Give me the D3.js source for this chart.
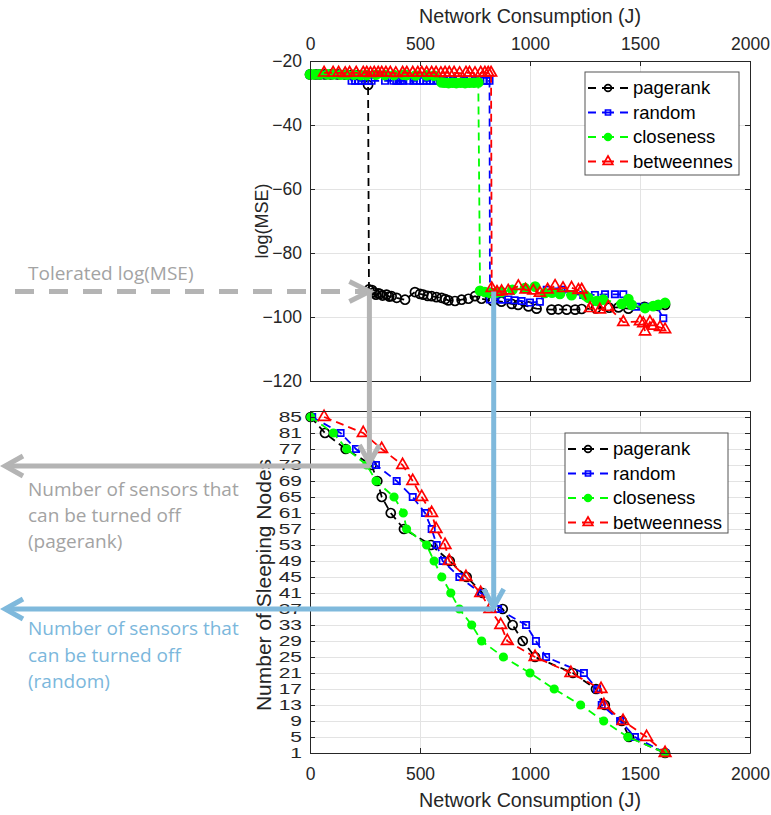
<!DOCTYPE html>
<html>
<head>
<meta charset="utf-8">
<script src="https://cdnjs.cloudflare.com/ajax/libs/d3/7.8.5/d3.min.js"></script>
<style>
body { margin: 0; background: #fff; }
svg { display: block; }
</style>
</head>
<body>
<div id="chart"></div>
<script>
// ---- data ----
var xTicks = [0, 500, 1000, 1500, 2000];
var mseTicks = [-20, -40, -60, -80, -100, -120];
var nodeTicks = [1, 5, 9, 13, 17, 21, 25, 29, 33, 37, 41, 45, 49, 53, 57, 61, 65, 69, 73, 77, 81, 85];

var topNames = ["pagerank", "random", "closeness", "betweennes"];
var bottomNames = ["pagerank", "random", "closeness", "betweenness"];

// top chart: [network consumption, log(MSE)]
var pagerankMse = [[0, -24.2], [25, -24.2], [45, -24.2], [68, -24.2], [95, -24.2], [125, -24.2], [162, -24.3], [190, -24.3], [215, -24.4], [240, -24.8], [264, -27.5],
    [268, -91.4], [282, -91.6], [290, -92.3], [300, -93], [310, -92.6], [318, -92.8], [330, -93.3], [348, -93], [360, -93.6], [371, -93.5], [394, -94], [432, -94.6],
    [477, -92.2], [500, -92.8], [515, -93], [535, -93.4], [553, -93.5], [575, -93.8], [598, -94], [615, -94.4], [629, -94.8], [659, -95], [689, -94.6], [720, -94.3], [750, -93.5], [780, -94.3],
    [830, -95], [870, -95.2], [917, -95.9], [946, -96.2], [993, -96.7], [1030, -97.4], [1098, -97.7], [1129, -97.6], [1167, -97.7], [1205, -97.7], [1235, -97.5], [1300, -97.3], [1360, -97.1], [1402, -97], [1447, -97.4], [1520, -96.8], [1580, -96.5], [1614, -96.2]];
var randomMse = [[0, -24.2], [30, -24.2], [60, -24.2], [90, -24.2], [120, -24.3], [150, -24.3], [178, -24.4], [189, -26.2], [205, -26.2], [220, -26.2], [235, -26.2], [250, -26.2], [265, -26.2], [280, -26.2], [341, -26.2], [379, -26.2], [392, -26.2], [402, -26.2], [413, -26.2], [424, -26.2], [450, -26.2], [470, -26.2], [485, -26.2], [500, -26.2], [515, -26.2], [530, -26.2], [545, -26.2], [561, -26.2], [580, -26.2], [610, -26.2], [650, -26.2], [700, -26.2], [750, -26.2], [790, -26.2], [803, -26.2], [816, -26.2],
    [818, -94.5], [841, -94.3], [871, -94.6], [901, -94.5], [930, -94.8], [962, -95], [1000, -95.5], [1045, -95.2], [1076, -91.5], [1110, -92], [1144, -91.5], [1190, -92.8], [1242, -93.1], [1295, -93.1], [1341, -92.9], [1386, -92.9], [1424, -92.9], [1482, -96.8], [1523, -96.8], [1575, -96.6], [1606, -100.4]];
var closenessMse = [[0, -24.2], [20, -24.2], [45, -24.2], [80, -24.2], [106, -24.2], [140, -24.3], [167, -24.3], [200, -24.3], [230, -24.4], [258, -24.4], [300, -24.3], [340, -24.4], [382, -24.4], [424, -24.3], [439, -24.4], [480, -24.5], [530, -24.5], [564, -24.6], [598, -26.7], [612, -26.8], [630, -26.9], [648, -26.8], [665, -26.9], [685, -26.8], [705, -26.9], [725, -26.8], [745, -26.8], [765, -26.7],
    [773, -91.8], [795, -92.2], [818, -92.5], [845, -92.4], [871, -92.2], [920, -91.5], [977, -91], [1023, -90.5], [1068, -92.5], [1100, -92.4], [1136, -92.8], [1189, -93.2], [1250, -93.2], [1265, -94], [1303, -95], [1333, -94.6], [1417, -95.9], [1447, -94.4], [1462, -96.2], [1523, -97.2], [1560, -96.6], [1583, -96.2], [1614, -95.6]];
var betweennessMse = [[64, -23.7], [105, -23.7], [130, -23.7], [160, -23.8], [180, -23.7], [210, -23.7], [242, -23.7], [258, -23.7], [275, -23.8], [292, -23.7], [310, -23.7], [326, -23.7], [345, -23.7], [365, -23.7], [390, -23.8], [421, -23.7], [440, -23.7], [467, -23.7], [490, -23.7], [508, -23.7], [530, -23.7], [553, -23.7], [573, -23.7], [595, -23.8], [614, -23.7], [633, -23.7], [655, -23.7], [680, -23.8], [709, -23.7], [725, -23.7], [750, -23.8], [776, -23.7], [795, -23.7], [810, -23.7], [823, -23.7],
    [826, -91], [850, -92.2], [871, -92], [901, -91.8], [947, -90.4], [980, -91.5], [1015, -91.8], [1045, -92.5], [1080, -91.5], [1114, -90.3], [1150, -91], [1189, -90.9], [1220, -91.6], [1235, -91.5], [1273, -97.3], [1318, -97.7], [1356, -96.9], [1424, -101.6], [1500, -101.4], [1515, -102], [1523, -104.6], [1545, -101.6], [1561, -102.8], [1591, -103.2], [1614, -103.9]];

// bottom chart: sleeping nodes vs network consumption
var sleepNodes = [85, 81, 77, 73, 69, 65, 61, 57, 53, 49, 45, 41, 37, 33, 29, 25, 21, 17, 13, 9, 5, 1];
var pagerankCons = [3, 68, 162, 280, 306, 326, 367, 427, 550, 635, 712, 785, 876, 921, 967, 1023, 1195, 1300, 1340, 1417, 1450, 1614];
var randomCons = [10, 139, 209, 300, 394, 467, 523, 553, 576, 603, 679, 776, 855, 982, 1027, 1073, 1245, 1305, 1326, 1410, 1477, 1614];
var closenessCons = [3, 106, 167, 258, 300, 382, 424, 439, 530, 564, 599, 640, 679, 735, 780, 879, 1000, 1110, 1230, 1335, 1445, 1614];
var betweennessCons = [64, 242, 326, 421, 467, 508, 553, 573, 614, 633, 709, 776, 818, 867, 897, 1023, 1186, 1323, 1336, 1423, 1530, 1614];

// annotation reading points
var toleratedMse = -92;
var pagerankCut = { cons: 270, nodes: 73 };
var randomCut = { cons: 835, nodes: 37 };

// ---- layout ----
var svgWidth = 771;
var svgHeight = 815;
var left = 310;
var width = 440;
var topPlot = { top: 61, height: 320 };
var botPlot = { top: 411, height: 342 };

var colors = ["#000000", "#0000ff", "#00ff00", "#ff0000"];
var markers = ["circle", "square", "dot", "triangle"];
var axisColor = "#262626";
var gridColor = "#e3e3e3";
var font = "'Liberation Sans', Arial, sans-serif";
var fmt = d3.format("d");

var svg = d3.select("#chart")
    .append("svg")
    .attr("width", svgWidth)
    .attr("height", svgHeight);

var x1 = d3.scaleLinear().domain([0, 2000]).range([0, width]);
var y1 = d3.scaleLinear().domain([-120, -20]).range([topPlot.height, 0]);
var x2 = d3.scaleLinear().domain([0, 2000]).range([0, width]);
var y2 = d3.scaleLinear().domain([1, 86.5]).range([botPlot.height, 0]);

function styleAxis(g, size) {
    g.attr("font-family", font).attr("font-size", size);
    g.selectAll("line").attr("stroke", axisColor);
    g.selectAll("path").attr("stroke", axisColor);
    g.selectAll("text").attr("fill", axisColor);
}

function grid(g, axis) {
    g.call(axis.tickFormat("").tickSizeOuter(0));
    g.select(".domain").remove();
    g.selectAll("line").attr("stroke", gridColor);
}

function drawMarkers(g, pts, x, y, type, color, big) {
    var sym;
    if (type === "circle") sym = d3.symbol(d3.symbolCircle, 64);
    else if (type === "square") sym = d3.symbol(d3.symbolSquare, 40);
    else if (type === "dot") sym = d3.symbol(d3.symbolCircle, big ? 64 : 44);
    else sym = d3.symbol(d3.symbolTriangle, big ? 52 : 58);

    g.selectAll(null)
        .data(pts)
        .enter()
        .append("path")
        .attr("d", sym)
        .attr("transform", d => `translate(${x(d[0])},${y(d[1])})`)
        .attr("fill", type === "dot" ? color : "none")
        .attr("stroke", color)
        .attr("stroke-width", 1.7);
}

function drawSeries(g, pts, x, y, i, big) {
    var line = d3.line().x(d => x(d[0])).y(d => y(d[1]));
    g.append("path")
        .datum(pts)
        .attr("d", line)
        .attr("fill", "none")
        .attr("stroke", colors[i])
        .attr("stroke-width", 1.8)
        .attr("stroke-dasharray", "8,5");
    drawMarkers(g, pts, x, y, markers[i], colors[i], big);
}

function legend(g, names, x0, y0, w, h) {
    g.append("rect")
        .attr("x", x0).attr("y", y0)
        .attr("width", w).attr("height", h)
        .attr("fill", "#fff")
        .attr("stroke", "#555")
        .attr("stroke-width", 1);
    names.forEach(function(name, i) {
        var cy = y0 + 16 + i * 24.5;
        var lx = x0 + 3;
        g.append("line")
            .attr("x1", lx).attr("x2", lx + 40)
            .attr("y1", cy).attr("y2", cy)
            .attr("stroke", colors[i])
            .attr("stroke-width", 1.8)
            .attr("stroke-dasharray", "8,6,12,6,8");
        var sym;
        if (markers[i] === "circle") sym = d3.symbol(d3.symbolCircle, 36);
        else if (markers[i] === "square") sym = d3.symbol(d3.symbolSquare, 25);
        else if (markers[i] === "dot") sym = d3.symbol(d3.symbolCircle, 36);
        else sym = d3.symbol(d3.symbolTriangle, 40);
        g.append("path")
            .attr("d", sym)
            .attr("transform", `translate(${lx + 20},${cy})`)
            .attr("fill", markers[i] === "dot" ? colors[i] : "none")
            .attr("stroke", colors[i])
            .attr("stroke-width", 1.7);
        g.append("text")
            .attr("x", lx + 45)
            .attr("y", cy)
            .attr("dy", "0.35em")
            .attr("font-family", font)
            .attr("font-size", 18.5)
            .attr("fill", "#000")
            .text(name);
    });
}

// ---- top chart ----
var gTop = svg.append("g").attr("transform", `translate(${left}, ${topPlot.top})`);

gTop.append("g").call(g => grid(g, d3.axisTop(x1).tickValues(xTicks).tickSize(-topPlot.height)));
gTop.append("g").call(g => grid(g, d3.axisLeft(y1).tickValues(mseTicks).tickSize(-width)));

var topSeries = [pagerankMse, randomMse, closenessMse, betweennessMse];
topSeries.forEach(function(pts, i) {
    drawSeries(gTop, pts, x1, y1, i, true);
});

gTop.append("g")
    .call(d3.axisTop(x1).tickValues(xTicks).tickFormat(fmt).tickSize(-5).tickSizeOuter(0).tickPadding(11))
    .call(g => styleAxis(g, 17.5));
gTop.append("g")
    .call(d3.axisLeft(y1).tickValues(mseTicks).tickSize(-5).tickSizeOuter(0).tickPadding(8))
    .call(g => styleAxis(g, 17.5));
gTop.append("g")
    .attr("transform", `translate(${width}, 0)`)
    .call(d3.axisRight(y1).tickValues(mseTicks).tickSize(-5).tickSizeOuter(0).tickFormat(""))
    .call(g => styleAxis(g, 17));
gTop.append("g")
    .attr("transform", `translate(0, ${topPlot.height})`)
    .call(d3.axisBottom(x1).tickValues(xTicks).tickSize(-5).tickSizeOuter(0).tickFormat(""))
    .call(g => styleAxis(g, 17));

gTop.append("text")
    .attr("x", width / 2)
    .attr("y", -38)
    .attr("text-anchor", "middle")
    .attr("font-family", font)
    .attr("font-size", 20)
    .attr("textLength", 222)
    .attr("lengthAdjust", "spacingAndGlyphs")
    .attr("fill", axisColor)
    .text("Network Consumption (J)");

gTop.append("text")
    .attr("transform", `translate(-42, ${topPlot.height / 2}) rotate(-90)`)
    .attr("text-anchor", "middle")
    .attr("font-family", font)
    .attr("font-size", 18)
    .attr("fill", axisColor)
    .text("log(MSE)");

legend(gTop, topNames, 275, 11, 154, 103);

// ---- bottom chart ----
var gBot = svg.append("g").attr("transform", `translate(${left}, ${botPlot.top})`);

gBot.append("g")
    .attr("transform", `translate(0, ${botPlot.height})`)
    .call(g => grid(g, d3.axisBottom(x2).tickValues(xTicks).tickSize(-botPlot.height)));
gBot.append("g").call(g => grid(g, d3.axisLeft(y2).tickValues(nodeTicks).tickSize(-width)));

var botSeries = [pagerankCons, randomCons, closenessCons, betweennessCons].map(function(cons) {
    return d3.zip(cons, sleepNodes);
});
botSeries.forEach(function(pts, i) {
    drawSeries(gBot, pts, x2, y2, i, false);
});

gBot.append("g")
    .attr("transform", `translate(0, ${botPlot.height})`)
    .call(d3.axisBottom(x2).tickValues(xTicks).tickFormat(fmt).tickSize(-5).tickSizeOuter(0).tickPadding(15))
    .call(g => styleAxis(g, 17.5));
var yAxisBot = gBot.append("g")
    .call(d3.axisLeft(y2).tickValues(nodeTicks).tickSize(-5).tickSizeOuter(0).tickPadding(8))
    .call(g => styleAxis(g, 15));
// tick labels are stretched wide in the original
yAxisBot.selectAll("text")
    .attr("x", -8 / 1.4)
    .attr("transform", "scale(1.4,1)");
gBot.append("g")
    .call(d3.axisTop(x2).tickValues(xTicks).tickSize(-5).tickSizeOuter(0).tickFormat(""))
    .call(g => styleAxis(g, 17));
gBot.append("g")
    .attr("transform", `translate(${width}, 0)`)
    .call(d3.axisRight(y2).tickValues(nodeTicks).tickSize(-5).tickSizeOuter(0).tickFormat(""))
    .call(g => styleAxis(g, 17));

gBot.append("text")
    .attr("x", width / 2)
    .attr("y", botPlot.height + 54)
    .attr("text-anchor", "middle")
    .attr("font-family", font)
    .attr("font-size", 20)
    .attr("textLength", 222)
    .attr("lengthAdjust", "spacingAndGlyphs")
    .attr("fill", axisColor)
    .text("Network Consumption (J)");

gBot.append("text")
    .attr("transform", `translate(-39, ${(y2(85) + y2(1)) / 2}) rotate(-90)`)
    .attr("text-anchor", "middle")
    .attr("font-family", font)
    .attr("font-size", 21)
    .attr("fill", axisColor)
    .text("Number of Sleeping Nodes");

legend(gBot, bottomNames, 255, 22, 163, 100);

// ---- annotations ----
var gray = "#b4b4b4";
var grayText = "#a3a3a3";
var blue = "#7fb9dc";
var blueText = "#7bb7dc";
var ann = svg.append("g").attr("fill", "none").attr("stroke-width", 5);

function chevron(tipX, tipY, dir, color) {
    var p;
    if (dir === "right") p = [[tipX - 20, tipY - 10], [tipX, tipY], [tipX - 20, tipY + 10]];
    else if (dir === "left") p = [[tipX + 18, tipY - 10], [tipX, tipY], [tipX + 18, tipY + 10]];
    else p = [[tipX - 10, tipY - 18], [tipX, tipY], [tipX + 10, tipY - 18]];
    ann.append("path")
        .attr("d", d3.line()(p))
        .attr("stroke", color)
        .attr("stroke-linejoin", "miter");
}

var tolY = topPlot.top + y1(toleratedMse);
var prX = left + x1(pagerankCut.cons);
var prY = botPlot.top + y2(pagerankCut.nodes);
var rdX = left + x1(randomCut.cons);
var rdY = botPlot.top + y2(randomCut.nodes);

// tolerated threshold
ann.append("line")
    .attr("x1", 15).attr("x2", prX - 4)
    .attr("y1", tolY).attr("y2", tolY)
    .attr("stroke", gray)
    .attr("stroke-dasharray", "19,15");
chevron(prX, tolY, "right", gray);

// pagerank reading
ann.append("line")
    .attr("x1", prX).attr("x2", prX)
    .attr("y1", tolY).attr("y2", prY)
    .attr("stroke", gray);
chevron(prX, prY - 2, "down", gray);
ann.append("line")
    .attr("x1", prX).attr("x2", 6)
    .attr("y1", prY + 1).attr("y2", prY + 1)
    .attr("stroke", gray);
chevron(5, prY + 1, "left", gray);

// random reading
ann.append("line")
    .attr("x1", rdX).attr("x2", rdX)
    .attr("y1", tolY).attr("y2", rdY)
    .attr("stroke", blue);
chevron(rdX, rdY - 2, "down", blue);
ann.append("line")
    .attr("x1", rdX).attr("x2", 6)
    .attr("y1", rdY).attr("y2", rdY)
    .attr("stroke", blue);
chevron(5, rdY, "left", blue);

var noteFont = "'Open Sans', Lato, sans-serif";
svg.append("text")
    .attr("x", 28).attr("y", 280)
    .attr("font-family", noteFont).attr("font-size", 19)
    .attr("fill", grayText)
    .text("Tolerated log(MSE)");

var prLines = ["Number of sensors that", "can be turned off", "(pagerank)"];
var rdLines = ["Number of sensors that", "can be turned off", "(random)"];
prLines.forEach(function(t, i) {
    svg.append("text")
        .attr("x", 28).attr("y", 496 + i * 26)
        .attr("font-family", noteFont).attr("font-size", 19)
        .attr("fill", grayText)
        .text(t);
});
rdLines.forEach(function(t, i) {
    svg.append("text")
        .attr("x", 28).attr("y", 635 + i * 26.5)
        .attr("font-family", noteFont).attr("font-size", 19)
        .attr("fill", blueText)
        .text(t);
});
</script>
</body>
</html>
